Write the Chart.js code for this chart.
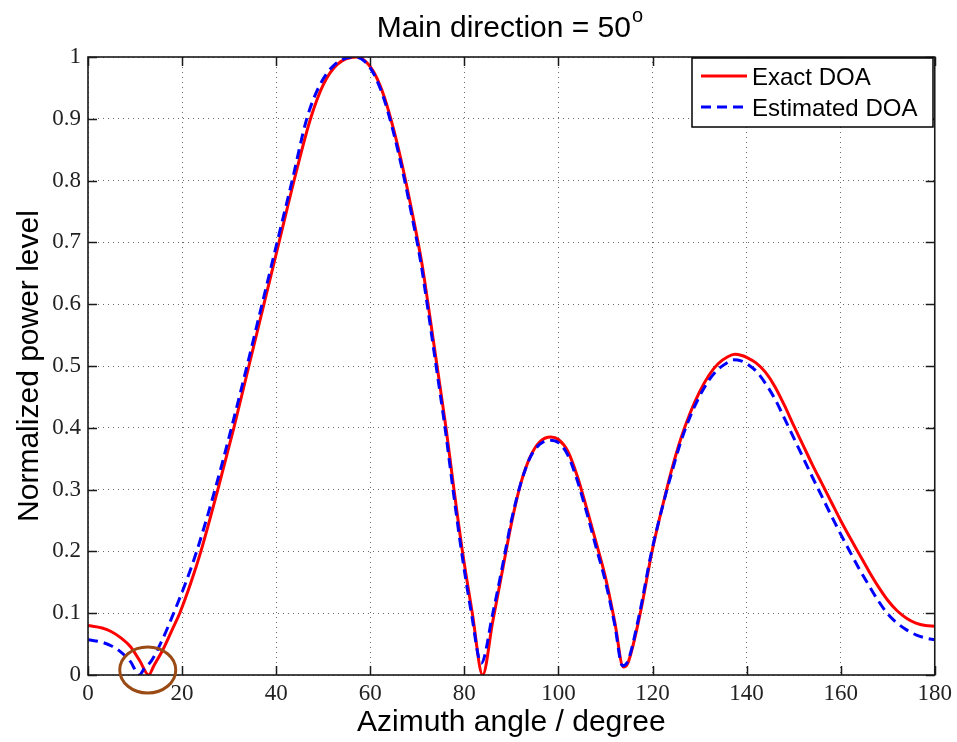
<!DOCTYPE html>
<html>
<head>
<meta charset="utf-8">
<script src="https://cdn.jsdelivr.net/npm/chart.js@4.4.1/dist/chart.umd.min.js"></script>
<style>
  html, body { margin: 0; padding: 0; background: #fff; }
  #wrap { width: 957px; height: 742px; }
</style>
</head>
<body>
<div id="wrap"><canvas id="beamChart" width="957" height="742"></canvas></div>
<script>
// azimuth angles (deg) and normalized power
const exactAngle = [0, 3, 5, 7, 9, 11, 12.9, 14, 16, 18, 19.5, 21.9, 24, 27.6, 31, 34.2, 37.4, 40.6, 43.8, 47.3,
    50, 53, 57, 59, 61, 63, 65, 67, 69, 71, 72.2, 74.2, 76.1, 77.8, 79.6, 81.7, 83.9,
    86, 88, 90, 92, 94, 96, 98.4, 100, 102, 104, 106, 108, 110, 112, 113.8, 114.8,
    117.4, 119.9, 123, 124, 126, 128, 130, 132, 134, 136, 137.5, 139, 140, 142, 144, 146, 148, 150,
    152, 154, 156, 158, 160, 162, 164, 166, 168, 170, 172, 174, 176, 178, 180];
const exactPower = [0.080, 0.076, 0.070, 0.060, 0.046, 0.023, 0, 0.015, 0.042, 0.075, 0.100, 0.150, 0.200, 0.300, 0.400, 0.500, 0.600, 0.700, 0.800, 0.900,
    0.955, 0.988, 1.000, 0.993, 0.972, 0.935, 0.882, 0.818, 0.745, 0.665, 0.605, 0.500, 0.400, 0.300, 0.200, 0.100, 0,
    0.085, 0.165, 0.245, 0.310, 0.353, 0.377, 0.385, 0.381, 0.362, 0.322, 0.270, 0.215, 0.158, 0.085, 0.013, 0.020,
    0.100, 0.200, 0.300, 0.330, 0.382, 0.424, 0.458, 0.485, 0.504, 0.515, 0.519, 0.517, 0.514, 0.505, 0.490, 0.467, 0.437, 0.404,
    0.372, 0.340, 0.310, 0.280, 0.250, 0.222, 0.195, 0.168, 0.143, 0.121, 0.104, 0.092, 0.084, 0.080, 0.079];

const estAngle = [0, 3, 5, 7, 9, 10.9, 12, 13.4, 15.8, 18.2, 20.8, 23.1, 27, 30.5, 33.8, 37, 40.2, 43.4, 46.5, 49.3,
    52.5, 56.7, 58.8, 60.8, 62.8, 64.8, 66.8, 68.8, 70.8, 72, 74, 75.9, 77.6, 79.4, 81.5, 83.6,
    86, 88, 90, 92, 94, 96, 98.2, 100, 102, 104, 106, 108, 110, 112, 113.6, 114.6,
    117.2, 119.7, 122.9, 124, 126, 128, 130, 132, 134, 136, 137.1, 139, 140, 142, 144, 146, 148, 150,
    152, 154, 156, 158, 160, 162, 164, 166, 168, 170, 172, 174, 176, 178, 180];
const estPower = [0.057, 0.053, 0.047, 0.037, 0.022, 0, 0.011, 0.022, 0.057, 0.100, 0.150, 0.200, 0.300, 0.400, 0.500, 0.600, 0.700, 0.800, 0.900, 0.955,
    0.988, 1.000, 0.993, 0.972, 0.935, 0.882, 0.818, 0.745, 0.665, 0.605, 0.500, 0.400, 0.300, 0.200, 0.100, 0.019,
    0.098, 0.172, 0.250, 0.310, 0.352, 0.373, 0.380, 0.376, 0.356, 0.315, 0.263, 0.207, 0.151, 0.080, 0.015, 0.020,
    0.098, 0.196, 0.295, 0.325, 0.377, 0.418, 0.451, 0.477, 0.495, 0.506, 0.510, 0.508, 0.504, 0.492, 0.472, 0.447, 0.416, 0.384,
    0.352, 0.320, 0.289, 0.258, 0.228, 0.199, 0.171, 0.145, 0.120, 0.099, 0.084, 0.073, 0.065, 0.060, 0.057];

const seriesNames = ["Exact DOA", "Estimated DOA"];
const xTicks = [0, 20, 40, 60, 80, 100, 120, 140, 160, 180];
const yTicks = [0, 0.1, 0.2, 0.3, 0.4, 0.5, 0.6, 0.7, 0.8, 0.9, 1];
const titleText = "Main direction = 50";
const titleSup = "o";
const xTitle = "Azimuth angle / degree";
const yTitle = "Normalized power level";
const circledAngle = 12.7; // the null marked with the brown ring

function toPoints(xs, ys) {
    return xs.map((x, i) => ({ x: x, y: ys[i] }));
}

// frame, inward ticks, titles, legend, ring
const decorations = {
    id: "decorations",
    afterDraw(chart) {
        const ctx = chart.ctx;
        const area = chart.chartArea;
        const sx = chart.scales.x, sy = chart.scales.y;
        ctx.save();

        ctx.strokeStyle = "#1a1a1a";
        ctx.lineWidth = 1.5;
        xTicks.forEach(v => {
            const px = Math.round(sx.getPixelForValue(v)) + 0.5;
            ctx.beginPath();
            ctx.moveTo(px, area.bottom); ctx.lineTo(px, area.bottom - 9);
            ctx.moveTo(px, area.top); ctx.lineTo(px, area.top + 9);
            ctx.stroke();
        });
        yTicks.forEach(v => {
            const py = Math.round(sy.getPixelForValue(v)) + 0.5;
            ctx.beginPath();
            ctx.moveTo(area.left, py); ctx.lineTo(area.left + 9, py);
            ctx.moveTo(area.right, py); ctx.lineTo(area.right - 9, py);
            ctx.stroke();
        });
        ctx.lineWidth = 1.6;
        ctx.strokeRect(area.left, area.top, area.right - area.left, area.bottom - area.top);

        // title with superscript
        ctx.fillStyle = "#000";
        ctx.textBaseline = "alphabetic";
        ctx.font = "30px 'Liberation Sans', Arial, sans-serif";
        const w1 = ctx.measureText(titleText).width;
        ctx.font = "20px 'Liberation Sans', Arial, sans-serif";
        const w2 = ctx.measureText(titleSup).width;
        const cx = (area.left + area.right) / 2;
        const start = cx - (w1 + w2) / 2 - 2;
        ctx.font = "30px 'Liberation Sans', Arial, sans-serif";
        ctx.textAlign = "left";
        ctx.fillText(titleText, start, 37);
        ctx.font = "20px 'Liberation Sans', Arial, sans-serif";
        ctx.fillText(titleSup, start + w1 + 1, 22);

        // axis titles
        ctx.font = "30px 'Liberation Sans', Arial, sans-serif";
        ctx.textAlign = "center";
        ctx.fillText(xTitle, cx, 731);
        ctx.save();
        ctx.translate(38, (area.top + area.bottom) / 2);
        ctx.rotate(-Math.PI / 2);
        ctx.fillText(yTitle, 0, 0);
        ctx.restore();

        // legend box
        const lx = 692, ly = 58, lw = 241, lh = 69;
        ctx.fillStyle = "#fff";
        ctx.fillRect(lx, ly, lw, lh);
        ctx.strokeStyle = "#000";
        ctx.lineWidth = 1.5;
        ctx.strokeRect(lx, ly, lw, lh);
        const ds = chart.data.datasets;
        const rows = [76, 107];
        ds.forEach((d, i) => {
            ctx.strokeStyle = d.borderColor;
            ctx.lineWidth = d.borderWidth;
            ctx.setLineDash(d.borderDash || []);
            ctx.beginPath();
            ctx.moveTo(701, rows[i]);
            ctx.lineTo(747, rows[i]);
            ctx.stroke();
            ctx.setLineDash([]);
            ctx.fillStyle = "#000";
            ctx.font = "24px 'Liberation Sans', Arial, sans-serif";
            ctx.textAlign = "left";
            ctx.fillText(d.label, 752, rows[i] + 9);
        });

        // brown ring around the first null
        ctx.strokeStyle = "#9a4a14";
        ctx.lineWidth = 3;
        ctx.beginPath();
        ctx.ellipse(sx.getPixelForValue(circledAngle), sy.getPixelForValue(0) - 5, 28, 23, 0, 0, Math.PI * 2);
        ctx.stroke();

        ctx.restore();
    }
};

const tickFont = { family: "'Liberation Serif', 'Times New Roman', serif", size: 23 };

new Chart(document.getElementById("beamChart").getContext("2d"), {
    type: "line",
    data: {
        datasets: [
            {
                label: seriesNames[0],
                data: toPoints(exactAngle, exactPower),
                borderColor: "#ff0000",
                borderWidth: 3,
                pointRadius: 0,
                cubicInterpolationMode: "monotone",
                order: 2
            },
            {
                label: seriesNames[1],
                data: toPoints(estAngle, estPower),
                borderColor: "#0000ff",
                borderWidth: 3,
                borderDash: [10, 6],
                pointRadius: 0,
                cubicInterpolationMode: "monotone",
                order: 1
            }
        ]
    },
    options: {
        responsive: false,
        animation: false,
        layout: { padding: { left: 0, top: 57, right: 22, bottom: 0 } },
        plugins: {
            legend: { display: false },
            tooltip: { enabled: false },
            title: { display: false }
        },
        scales: {
            x: {
                type: "linear",
                min: 0,
                max: 180,
                afterFit: scale => { scale.height = 67; },
                afterBuildTicks: scale => { scale.ticks = xTicks.map(v => ({ value: v })); },
                ticks: { font: tickFont, color: "#222", padding: 5, maxRotation: 0, autoSkip: false },
                grid: { color: "#6a6a6a", lineWidth: 1, drawTicks: false },
                border: { display: false, dash: [1, 4] }
            },
            y: {
                min: 0,
                max: 1,
                afterFit: scale => { scale.width = 88; },
                afterBuildTicks: scale => { scale.ticks = yTicks.map(v => ({ value: v })); },
                ticks: {
                    font: tickFont,
                    color: "#222",
                    padding: 7,
                    callback: v => String(+v.toFixed(1))
                },
                grid: { color: "#6a6a6a", lineWidth: 1, drawTicks: false },
                border: { display: false, dash: [1, 4] }
            }
        }
    },
    plugins: [decorations]
});
</script>
</body>
</html>
